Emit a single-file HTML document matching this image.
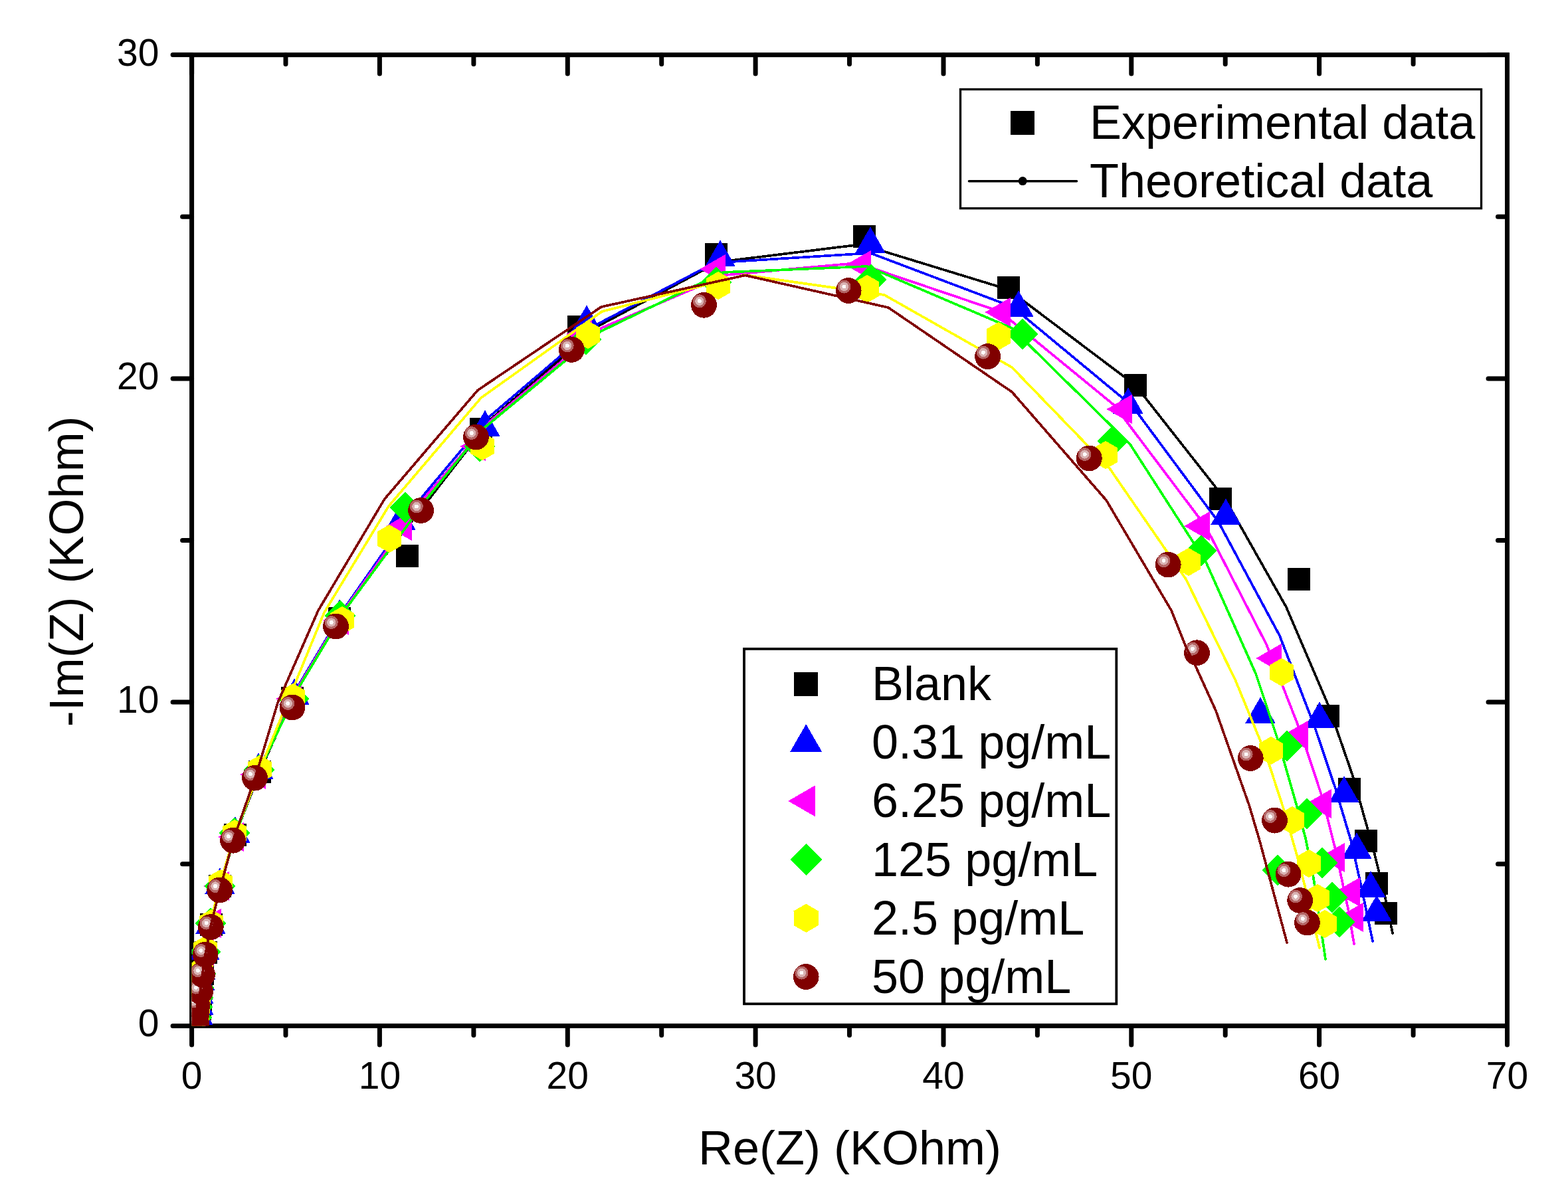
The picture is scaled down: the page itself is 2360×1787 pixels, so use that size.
<!DOCTYPE html><html><head><meta charset="utf-8"><style>html,body{margin:0;padding:0;background:#fff;}svg{display:block}text{font-family:"Liberation Sans",Arial,sans-serif;fill:#000}</style></head><body>
<svg width="2360" height="1787" viewBox="0 0 2360 1787">
<defs><clipPath id="pc"><rect x="288.6" y="82.6" width="1979.9" height="1461.8"/></clipPath>
</defs>
<rect width="100%" height="100%" fill="#fff"/>
<g stroke="#000" stroke-width="7" fill="none" stroke-linecap="round">
<rect x="288.6" y="82.6" width="1979.9" height="1461.8" stroke-linecap="square"/>
<path d="M288.6 1544.4V1572.9M288.6 82.6V111.1M430.0 1544.4V1558.4M430.0 82.6V96.6M571.4 1544.4V1572.9M571.4 82.6V111.1M712.9 1544.4V1558.4M712.9 82.6V96.6M854.3 1544.4V1572.9M854.3 82.6V111.1M995.7 1544.4V1558.4M995.7 82.6V96.6M1137.1 1544.4V1572.9M1137.1 82.6V111.1M1278.5 1544.4V1558.4M1278.5 82.6V96.6M1420.0 1544.4V1572.9M1420.0 82.6V111.1M1561.4 1544.4V1558.4M1561.4 82.6V96.6M1702.8 1544.4V1572.9M1702.8 82.6V111.1M1844.2 1544.4V1558.4M1844.2 82.6V96.6M1985.6 1544.4V1572.9M1985.6 82.6V111.1M2127.1 1544.4V1558.4M2127.1 82.6V96.6M2268.5 1544.4V1572.9M2268.5 82.6V111.1M288.6 1544.4H260.1M2268.5 1544.4H2240.0M288.6 1300.8H274.6M2268.5 1300.8H2254.5M288.6 1057.1H260.1M2268.5 1057.1H2240.0M288.6 813.5H274.6M2268.5 813.5H2254.5M288.6 569.9H260.1M2268.5 569.9H2240.0M288.6 326.2H274.6M2268.5 326.2H2254.5M288.6 82.6H260.1M2268.5 82.6H2240.0"/>
</g>
<g font-size="57">
<text x="288.6" y="1638.5" text-anchor="middle">0</text>
<text x="571.4" y="1638.5" text-anchor="middle">10</text>
<text x="854.3" y="1638.5" text-anchor="middle">20</text>
<text x="1137.1" y="1638.5" text-anchor="middle">30</text>
<text x="1420.0" y="1638.5" text-anchor="middle">40</text>
<text x="1702.8" y="1638.5" text-anchor="middle">50</text>
<text x="1985.6" y="1638.5" text-anchor="middle">60</text>
<text x="2268.5" y="1638.5" text-anchor="middle">70</text>
<text x="239.5" y="1560.4" text-anchor="end">0</text>
<text x="239.5" y="1073.1" text-anchor="end">10</text>
<text x="239.5" y="585.9" text-anchor="end">20</text>
<text x="239.5" y="98.6" text-anchor="end">30</text>
</g>
<text x="1051" y="1752.5" font-size="72">Re(Z) (KOhm)</text>
<text transform="translate(124.8 1094.3) rotate(-90)" font-size="72">-Im(Z) (KOhm)</text>
<g clip-path="url(#pc)" shape-rendering="crispEdges">
<g fill="#000000"><rect x="283.0" y="1515.0" width="34" height="34"/><rect x="284.0" y="1502.0" width="34" height="34"/><rect x="285.0" y="1488.0" width="34" height="34"/><rect x="286.0" y="1471.0" width="34" height="34"/><rect x="288.0" y="1449.0" width="34" height="34"/><rect x="293.0" y="1417.0" width="34" height="34"/><rect x="301.0" y="1375.0" width="34" height="34"/><rect x="314.0" y="1317.0" width="34" height="34"/><rect x="337.0" y="1240.0" width="34" height="34"/><rect x="374.0" y="1145.0" width="34" height="34"/><rect x="423.0" y="1034.0" width="34" height="34"/><rect x="494.0" y="914.0" width="34" height="34"/><rect x="596.0" y="820.0" width="34" height="34"/><rect x="707.0" y="629.0" width="34" height="34"/><rect x="854.0" y="475.0" width="34" height="34"/><rect x="1061.0" y="366.0" width="34" height="34"/><rect x="1284.0" y="339.0" width="34" height="34"/><rect x="1501.0" y="416.0" width="34" height="34"/><rect x="1692.0" y="563.0" width="34" height="34"/><rect x="1820.0" y="734.0" width="34" height="34"/><rect x="1938.0" y="855.0" width="34" height="34"/><rect x="1982.0" y="1061.0" width="34" height="34"/><rect x="2014.0" y="1171.0" width="34" height="34"/><rect x="2039.0" y="1249.0" width="34" height="34"/><rect x="2055.0" y="1313.0" width="34" height="34"/><rect x="2069.0" y="1358.0" width="34" height="34"/></g>
<path d="M295.0 1544.0L300.0 1510.0L304.0 1470.0L311.0 1435.0L318.0 1392.0L331.0 1334.0L354.0 1257.0L391.0 1162.0L448.0 1034.0L521.0 912.0L740.0 630.0L902.0 490.0L1056.0 408.0L1101.0 392.0L1296.0 368.0L1518.0 436.0L1709.0 580.0L1845.0 753.0L1936.0 914.0L1999.0 1061.0L2036.0 1168.0L2068.0 1282.0L2084.0 1347.0L2096.0 1405.0" fill="none" stroke="#000000" stroke-width="3.7" stroke-linejoin="round" stroke-linecap="round"/>
<g fill="#0000FF"><path d="M298.0 1503.5L320.9 1543.2L275.1 1543.2Z"/><path d="M299.0 1488.5L321.9 1528.2L276.1 1528.2Z"/><path d="M299.0 1471.5L321.9 1511.2L276.1 1511.2Z"/><path d="M301.0 1451.5L323.9 1491.2L278.1 1491.2Z"/><path d="M302.0 1435.5L324.9 1475.2L279.1 1475.2Z"/><path d="M308.0 1405.5L330.9 1445.2L285.1 1445.2Z"/><path d="M317.0 1366.5L339.9 1406.2L294.1 1406.2Z"/><path d="M331.0 1306.5L353.9 1346.2L308.1 1346.2Z"/><path d="M354.0 1229.5L376.9 1269.2L331.1 1269.2Z"/><path d="M389.0 1133.5L411.9 1173.2L366.1 1173.2Z"/><path d="M443.0 1021.5L465.9 1061.2L420.1 1061.2Z"/><path d="M511.0 902.5L533.9 942.2L488.1 942.2Z"/><path d="M603.0 758.5L625.9 798.2L580.1 798.2Z"/><path d="M730.0 617.5L752.9 657.2L707.1 657.2Z"/><path d="M883.0 459.5L905.9 499.2L860.1 499.2Z"/><path d="M1084.0 361.5L1106.9 401.2L1061.1 401.2Z"/><path d="M1310.0 341.5L1332.9 381.2L1287.1 381.2Z"/><path d="M1533.0 437.5L1555.9 477.2L1510.1 477.2Z"/><path d="M1698.0 583.5L1720.9 623.2L1675.1 623.2Z"/><path d="M1845.0 750.5L1867.9 790.2L1822.1 790.2Z"/><path d="M1897.0 1049.5L1919.9 1089.2L1874.1 1089.2Z"/><path d="M1986.0 1056.5L2008.9 1096.2L1963.1 1096.2Z"/><path d="M2023.0 1168.5L2045.9 1208.2L2000.1 1208.2Z"/><path d="M2042.0 1253.5L2064.9 1293.2L2019.1 1293.2Z"/><path d="M2063.0 1311.5L2085.9 1351.2L2040.1 1351.2Z"/><path d="M2072.0 1347.5L2094.9 1387.2L2049.1 1387.2Z"/></g>
<path d="M294.0 1544.0L299.0 1510.0L303.0 1470.0L309.0 1435.0L317.0 1393.0L331.0 1333.0L354.0 1256.0L389.0 1160.0L448.0 1034.0L521.0 912.0L637.0 746.0L737.0 627.0L901.0 487.0L1054.0 407.0L1101.0 394.0L1310.0 381.0L1524.0 462.0L1705.0 612.0L1834.0 786.0L1926.0 957.0L1979.0 1095.0L2010.0 1187.0L2034.0 1268.0L2050.0 1340.0L2066.0 1417.0" fill="none" stroke="#0000FF" stroke-width="3.7" stroke-linejoin="round" stroke-linecap="round"/>
<g fill="#FF00FF"><path d="M271.5 1530.0L309.8 1507.9L309.8 1552.1Z"/><path d="M272.5 1516.0L310.8 1493.9L310.8 1538.1Z"/><path d="M273.5 1500.0L311.8 1477.9L311.8 1522.1Z"/><path d="M274.5 1480.0L312.8 1457.9L312.8 1502.1Z"/><path d="M276.5 1463.0L314.8 1440.9L314.8 1485.1Z"/><path d="M283.5 1432.0L321.8 1409.9L321.8 1454.1Z"/><path d="M294.5 1390.0L332.8 1367.9L332.8 1412.1Z"/><path d="M306.5 1334.0L344.8 1311.9L344.8 1356.1Z"/><path d="M328.5 1260.0L366.8 1237.9L366.8 1282.1Z"/><path d="M361.5 1166.0L399.8 1143.9L399.8 1188.1Z"/><path d="M415.5 1052.0L453.8 1029.9L453.8 1074.1Z"/><path d="M486.5 934.0L524.8 911.9L524.8 956.1Z"/><path d="M581.5 792.0L619.8 769.9L619.8 814.1Z"/><path d="M692.5 672.0L730.8 649.9L730.8 694.1Z"/><path d="M852.5 503.0L890.8 480.9L890.8 525.1Z"/><path d="M1053.5 405.0L1091.8 382.9L1091.8 427.1Z"/><path d="M1272.5 399.0L1310.8 376.9L1310.8 421.1Z"/><path d="M1482.5 470.0L1520.8 447.9L1520.8 492.1Z"/><path d="M1665.5 616.0L1703.8 593.9L1703.8 638.1Z"/><path d="M1782.5 792.0L1820.8 769.9L1820.8 814.1Z"/><path d="M1890.5 991.0L1928.8 968.9L1928.8 1013.1Z"/><path d="M1930.5 1107.0L1968.8 1084.9L1968.8 1129.1Z"/><path d="M1965.5 1210.0L2003.8 1187.9L2003.8 1232.1Z"/><path d="M1985.5 1291.0L2023.8 1268.9L2023.8 1313.1Z"/><path d="M2008.5 1343.0L2046.8 1320.9L2046.8 1365.1Z"/><path d="M2013.5 1381.0L2051.8 1358.9L2051.8 1403.1Z"/></g>
<path d="M294.0 1544.0L299.0 1510.0L303.0 1470.0L309.0 1435.0L318.0 1392.0L331.0 1334.0L354.0 1258.0L389.0 1162.0L448.0 1036.0L521.0 914.0L640.0 748.0L740.0 632.0L905.0 494.0L1092.0 414.0L1290.0 396.0L1505.0 469.0L1677.0 610.0L1815.0 793.0L1906.0 970.0L1958.0 1103.0L1990.0 1200.0L2009.0 1275.0L2029.0 1368.0L2038.0 1421.0" fill="none" stroke="#FF00FF" stroke-width="3.7" stroke-linejoin="round" stroke-linecap="round"/>
<g fill="#00FF00"><path d="M296.0 1508.8L319.2 1532.0L296.0 1555.2L272.8 1532.0Z"/><path d="M297.0 1492.8L320.2 1516.0L297.0 1539.2L273.8 1516.0Z"/><path d="M298.0 1478.8L321.2 1502.0L298.0 1525.2L274.8 1502.0Z"/><path d="M299.0 1463.8L322.2 1487.0L299.0 1510.2L275.8 1487.0Z"/><path d="M302.0 1442.8L325.2 1466.0L302.0 1489.2L278.8 1466.0Z"/><path d="M309.0 1409.8L332.2 1433.0L309.0 1456.2L285.8 1433.0Z"/><path d="M317.0 1366.8L340.2 1390.0L317.0 1413.2L293.8 1390.0Z"/><path d="M331.0 1310.8L354.2 1334.0L331.0 1357.2L307.8 1334.0Z"/><path d="M353.0 1230.8L376.2 1254.0L353.0 1277.2L329.8 1254.0Z"/><path d="M390.0 1135.8L413.2 1159.0L390.0 1182.2L366.8 1159.0Z"/><path d="M442.0 1028.8L465.2 1052.0L442.0 1075.2L418.8 1052.0Z"/><path d="M512.0 903.8L535.2 927.0L512.0 950.2L488.8 927.0Z"/><path d="M610.0 740.8L633.2 764.0L610.0 787.2L586.8 764.0Z"/><path d="M722.0 648.8L745.2 672.0L722.0 695.2L698.8 672.0Z"/><path d="M882.0 487.8L905.2 511.0L882.0 534.2L858.8 511.0Z"/><path d="M1078.0 401.8L1101.2 425.0L1078.0 448.2L1054.8 425.0Z"/><path d="M1311.0 397.8L1334.2 421.0L1311.0 444.2L1287.8 421.0Z"/><path d="M1539.0 479.8L1562.2 503.0L1539.0 526.2L1515.8 503.0Z"/><path d="M1675.0 640.8L1698.2 664.0L1675.0 687.2L1651.8 664.0Z"/><path d="M1808.0 805.8L1831.2 829.0L1808.0 852.2L1784.8 829.0Z"/><path d="M1923.0 1286.8L1946.2 1310.0L1923.0 1333.2L1899.8 1310.0Z"/><path d="M1937.0 1099.8L1960.2 1123.0L1937.0 1146.2L1913.8 1123.0Z"/><path d="M1967.0 1201.8L1990.2 1225.0L1967.0 1248.2L1943.8 1225.0Z"/><path d="M1990.0 1275.8L2013.2 1299.0L1990.0 1322.2L1966.8 1299.0Z"/><path d="M2005.0 1327.8L2028.2 1351.0L2005.0 1374.2L1981.8 1351.0Z"/><path d="M2016.0 1364.8L2039.2 1388.0L2016.0 1411.2L1992.8 1388.0Z"/></g>
<path d="M293.0 1544.0L298.0 1510.0L302.0 1470.0L309.0 1435.0L318.0 1392.0L331.0 1335.0L354.0 1258.0L389.0 1163.0L448.0 1038.0L521.0 916.0L644.0 749.0L729.0 644.0L904.0 499.0L1088.0 410.0L1305.0 401.0L1523.0 494.0L1701.0 669.0L1815.0 846.0L1890.0 1014.0L1923.0 1113.0L1952.0 1214.0L1965.0 1262.0L1977.0 1322.0L1995.0 1444.0" fill="none" stroke="#00FF00" stroke-width="3.7" stroke-linejoin="round" stroke-linecap="round"/>
<g fill="#FFFF00"><path d="M297.0 1508.8L315.4 1519.4L315.4 1540.6L297.0 1551.2L278.6 1540.6L278.6 1519.4Z"/><path d="M298.0 1493.8L316.4 1504.4L316.4 1525.6L298.0 1536.2L279.6 1525.6L279.6 1504.4Z"/><path d="M299.0 1478.8L317.4 1489.4L317.4 1510.6L299.0 1521.2L280.6 1510.6L280.6 1489.4Z"/><path d="M300.0 1462.8L318.4 1473.4L318.4 1494.6L300.0 1505.2L281.6 1494.6L281.6 1473.4Z"/><path d="M303.0 1440.8L321.4 1451.4L321.4 1472.6L303.0 1483.2L284.6 1472.6L284.6 1451.4Z"/><path d="M309.0 1408.8L327.4 1419.4L327.4 1440.6L309.0 1451.2L290.6 1440.6L290.6 1419.4Z"/><path d="M318.0 1368.8L336.4 1379.4L336.4 1400.6L318.0 1411.2L299.6 1400.6L299.6 1379.4Z"/><path d="M332.0 1308.8L350.4 1319.4L350.4 1340.6L332.0 1351.2L313.6 1340.6L313.6 1319.4Z"/><path d="M353.0 1233.8L371.4 1244.4L371.4 1265.6L353.0 1276.2L334.6 1265.6L334.6 1244.4Z"/><path d="M391.0 1136.8L409.4 1147.4L409.4 1168.6L391.0 1179.2L372.6 1168.6L372.6 1147.4Z"/><path d="M441.0 1028.8L459.4 1039.4L459.4 1060.6L441.0 1071.2L422.6 1060.6L422.6 1039.4Z"/><path d="M515.0 912.8L533.4 923.4L533.4 944.6L515.0 955.2L496.6 944.6L496.6 923.4Z"/><path d="M586.0 789.8L604.4 800.4L604.4 821.6L586.0 832.2L567.6 821.6L567.6 800.4Z"/><path d="M726.0 650.8L744.4 661.4L744.4 682.6L726.0 693.2L707.6 682.6L707.6 661.4Z"/><path d="M885.0 482.8L903.4 493.4L903.4 514.6L885.0 525.2L866.6 514.6L866.6 493.4Z"/><path d="M1081.0 408.8L1099.4 419.4L1099.4 440.6L1081.0 451.2L1062.6 440.6L1062.6 419.4Z"/><path d="M1305.0 413.8L1323.4 424.4L1323.4 445.6L1305.0 456.2L1286.6 445.6L1286.6 424.4Z"/><path d="M1503.0 484.8L1521.4 495.4L1521.4 516.6L1503.0 527.2L1484.6 516.6L1484.6 495.4Z"/><path d="M1664.0 663.8L1682.4 674.4L1682.4 695.6L1664.0 706.2L1645.6 695.6L1645.6 674.4Z"/><path d="M1789.0 824.8L1807.4 835.4L1807.4 856.6L1789.0 867.2L1770.6 856.6L1770.6 835.4Z"/><path d="M1929.0 990.8L1947.4 1001.4L1947.4 1022.6L1929.0 1033.2L1910.6 1022.6L1910.6 1001.4Z"/><path d="M1913.0 1108.8L1931.4 1119.4L1931.4 1140.6L1913.0 1151.2L1894.6 1140.6L1894.6 1119.4Z"/><path d="M1945.0 1213.8L1963.4 1224.4L1963.4 1245.6L1945.0 1256.2L1926.6 1245.6L1926.6 1224.4Z"/><path d="M1970.0 1278.8L1988.4 1289.4L1988.4 1310.6L1970.0 1321.2L1951.6 1310.6L1951.6 1289.4Z"/><path d="M1983.0 1330.8L2001.4 1341.4L2001.4 1362.6L1983.0 1373.2L1964.6 1362.6L1964.6 1341.4Z"/><path d="M1994.0 1369.8L2012.4 1380.4L2012.4 1401.6L1994.0 1412.2L1975.6 1401.6L1975.6 1380.4Z"/></g>
<path d="M293.0 1544.0L298.0 1510.0L302.0 1470.0L308.0 1435.0L316.0 1392.0L330.0 1335.0L352.0 1260.0L399.0 1139.0L488.0 922.0L585.0 762.0L724.0 599.0L906.0 469.0L1121.0 414.0L1331.0 444.0L1523.0 553.0L1670.0 705.0L1785.0 872.0L1859.0 1023.0L1905.0 1135.0L1932.0 1218.0L1953.0 1291.0L1964.0 1334.0L1986.0 1427.0" fill="none" stroke="#FFFF00" stroke-width="3.7" stroke-linejoin="round" stroke-linecap="round"/>
<g fill="#800000"><circle cx="295.5" cy="1540.0" r="19.4" fill="#800000"/><circle cx="288.8" cy="1534.0" r="10" fill="#B46666"/><circle cx="288.8" cy="1534.0" r="6.6" fill="#D9B3B3"/><circle cx="288.8" cy="1534.0" r="3" fill="#FDFAFA"/><circle cx="296.0" cy="1527.0" r="19.4" fill="#800000"/><circle cx="289.3" cy="1521.0" r="10" fill="#B46666"/><circle cx="289.3" cy="1521.0" r="6.6" fill="#D9B3B3"/><circle cx="289.3" cy="1521.0" r="3" fill="#FDFAFA"/><circle cx="297.1" cy="1513.5" r="19.4" fill="#800000"/><circle cx="290.4" cy="1507.5" r="10" fill="#B46666"/><circle cx="290.4" cy="1507.5" r="6.6" fill="#D9B3B3"/><circle cx="290.4" cy="1507.5" r="3" fill="#FDFAFA"/><circle cx="301.6" cy="1492.6" r="19.4" fill="#800000"/><circle cx="294.9" cy="1486.6" r="10" fill="#B46666"/><circle cx="294.9" cy="1486.6" r="6.6" fill="#D9B3B3"/><circle cx="294.9" cy="1486.6" r="3" fill="#FDFAFA"/><circle cx="304.6" cy="1467.2" r="19.4" fill="#800000"/><circle cx="297.9" cy="1461.2" r="10" fill="#B46666"/><circle cx="297.9" cy="1461.2" r="6.6" fill="#D9B3B3"/><circle cx="297.9" cy="1461.2" r="3" fill="#FDFAFA"/><circle cx="309.1" cy="1437.0" r="19.4" fill="#800000"/><circle cx="302.4" cy="1431.0" r="10" fill="#B46666"/><circle cx="302.4" cy="1431.0" r="6.6" fill="#D9B3B3"/><circle cx="302.4" cy="1431.0" r="3" fill="#FDFAFA"/><circle cx="317.3" cy="1395.6" r="19.4" fill="#800000"/><circle cx="310.6" cy="1389.6" r="10" fill="#B46666"/><circle cx="310.6" cy="1389.6" r="6.6" fill="#D9B3B3"/><circle cx="310.6" cy="1389.6" r="3" fill="#FDFAFA"/><circle cx="330.7" cy="1340.0" r="19.4" fill="#800000"/><circle cx="324.0" cy="1334.0" r="10" fill="#B46666"/><circle cx="324.0" cy="1334.0" r="6.6" fill="#D9B3B3"/><circle cx="324.0" cy="1334.0" r="3" fill="#FDFAFA"/><circle cx="350.6" cy="1265.2" r="19.4" fill="#800000"/><circle cx="343.9" cy="1259.2" r="10" fill="#B46666"/><circle cx="343.9" cy="1259.2" r="6.6" fill="#D9B3B3"/><circle cx="343.9" cy="1259.2" r="3" fill="#FDFAFA"/><circle cx="383.5" cy="1171.2" r="19.4" fill="#800000"/><circle cx="376.8" cy="1165.2" r="10" fill="#B46666"/><circle cx="376.8" cy="1165.2" r="6.6" fill="#D9B3B3"/><circle cx="376.8" cy="1165.2" r="3" fill="#FDFAFA"/><circle cx="440.0" cy="1065.0" r="19.4" fill="#800000"/><circle cx="433.3" cy="1059.0" r="10" fill="#B46666"/><circle cx="433.3" cy="1059.0" r="6.6" fill="#D9B3B3"/><circle cx="433.3" cy="1059.0" r="3" fill="#FDFAFA"/><circle cx="505.5" cy="943.0" r="19.4" fill="#800000"/><circle cx="498.8" cy="937.0" r="10" fill="#B46666"/><circle cx="498.8" cy="937.0" r="6.6" fill="#D9B3B3"/><circle cx="498.8" cy="937.0" r="3" fill="#FDFAFA"/><circle cx="633.6" cy="768.5" r="19.4" fill="#800000"/><circle cx="626.9" cy="762.5" r="10" fill="#B46666"/><circle cx="626.9" cy="762.5" r="6.6" fill="#D9B3B3"/><circle cx="626.9" cy="762.5" r="3" fill="#FDFAFA"/><circle cx="716.4" cy="658.0" r="19.4" fill="#800000"/><circle cx="709.7" cy="652.0" r="10" fill="#B46666"/><circle cx="709.7" cy="652.0" r="6.6" fill="#D9B3B3"/><circle cx="709.7" cy="652.0" r="3" fill="#FDFAFA"/><circle cx="860.4" cy="526.4" r="19.4" fill="#800000"/><circle cx="853.7" cy="520.4" r="10" fill="#B46666"/><circle cx="853.7" cy="520.4" r="6.6" fill="#D9B3B3"/><circle cx="853.7" cy="520.4" r="3" fill="#FDFAFA"/><circle cx="1059.5" cy="459.3" r="19.4" fill="#800000"/><circle cx="1052.8" cy="453.3" r="10" fill="#B46666"/><circle cx="1052.8" cy="453.3" r="6.6" fill="#D9B3B3"/><circle cx="1052.8" cy="453.3" r="3" fill="#FDFAFA"/><circle cx="1277.2" cy="437.5" r="19.4" fill="#800000"/><circle cx="1270.5" cy="431.5" r="10" fill="#B46666"/><circle cx="1270.5" cy="431.5" r="6.6" fill="#D9B3B3"/><circle cx="1270.5" cy="431.5" r="3" fill="#FDFAFA"/><circle cx="1486.6" cy="536.6" r="19.4" fill="#800000"/><circle cx="1479.9" cy="530.6" r="10" fill="#B46666"/><circle cx="1479.9" cy="530.6" r="6.6" fill="#D9B3B3"/><circle cx="1479.9" cy="530.6" r="3" fill="#FDFAFA"/><circle cx="1639.3" cy="690.0" r="19.4" fill="#800000"/><circle cx="1632.6" cy="684.0" r="10" fill="#B46666"/><circle cx="1632.6" cy="684.0" r="6.6" fill="#D9B3B3"/><circle cx="1632.6" cy="684.0" r="3" fill="#FDFAFA"/><circle cx="1758.2" cy="850.1" r="19.4" fill="#800000"/><circle cx="1751.5" cy="844.1" r="10" fill="#B46666"/><circle cx="1751.5" cy="844.1" r="6.6" fill="#D9B3B3"/><circle cx="1751.5" cy="844.1" r="3" fill="#FDFAFA"/><circle cx="1801.5" cy="982.8" r="19.4" fill="#800000"/><circle cx="1794.8" cy="976.8" r="10" fill="#B46666"/><circle cx="1794.8" cy="976.8" r="6.6" fill="#D9B3B3"/><circle cx="1794.8" cy="976.8" r="3" fill="#FDFAFA"/><circle cx="1882.3" cy="1141.5" r="19.4" fill="#800000"/><circle cx="1875.6" cy="1135.5" r="10" fill="#B46666"/><circle cx="1875.6" cy="1135.5" r="6.6" fill="#D9B3B3"/><circle cx="1875.6" cy="1135.5" r="3" fill="#FDFAFA"/><circle cx="1918.5" cy="1235.1" r="19.4" fill="#800000"/><circle cx="1911.8" cy="1229.1" r="10" fill="#B46666"/><circle cx="1911.8" cy="1229.1" r="6.6" fill="#D9B3B3"/><circle cx="1911.8" cy="1229.1" r="3" fill="#FDFAFA"/><circle cx="1939.1" cy="1316.2" r="19.4" fill="#800000"/><circle cx="1932.4" cy="1310.2" r="10" fill="#B46666"/><circle cx="1932.4" cy="1310.2" r="6.6" fill="#D9B3B3"/><circle cx="1932.4" cy="1310.2" r="3" fill="#FDFAFA"/><circle cx="1956.7" cy="1355.6" r="19.4" fill="#800000"/><circle cx="1950.0" cy="1349.6" r="10" fill="#B46666"/><circle cx="1950.0" cy="1349.6" r="6.6" fill="#D9B3B3"/><circle cx="1950.0" cy="1349.6" r="3" fill="#FDFAFA"/><circle cx="1967.4" cy="1389.1" r="19.4" fill="#800000"/><circle cx="1960.7" cy="1383.1" r="10" fill="#B46666"/><circle cx="1960.7" cy="1383.1" r="6.6" fill="#D9B3B3"/><circle cx="1960.7" cy="1383.1" r="3" fill="#FDFAFA"/></g>
<path d="M294.0 1544.0L297.0 1513.0L301.6 1492.0L304.6 1467.0L309.0 1437.0L317.0 1395.0L330.7 1340.0L351.0 1265.0L385.0 1168.0L418.0 1058.0L479.0 919.0L579.0 751.0L719.0 587.5L905.0 462.0L1121.5 414.5L1337.0 463.0L1523.0 590.0L1665.0 753.0L1763.0 919.0L1785.0 974.0L1800.0 1004.0L1830.0 1070.0L1880.0 1212.0L1896.0 1266.0L1937.0 1419.0" fill="none" stroke="#800000" stroke-width="3.7" stroke-linejoin="round" stroke-linecap="round"/>
</g>
<rect x="1445.5" y="134.5" width="784" height="179.2" fill="none" stroke="#000" stroke-width="3.3"/>
<rect x="1521" y="167" width="36" height="36" fill="#000"/>
<text x="1640" y="209.3" font-size="72">Experimental data</text>
<path d="M1458.5 272.7H1620.5" stroke="#000" stroke-width="3.6" stroke-linecap="round"/>
<circle cx="1539.2" cy="272.6" r="6.5" fill="#000"/>
<text x="1640" y="296.7" font-size="72">Theoretical data</text>
<rect x="1120" y="976.9" width="560.3" height="534.4" fill="none" stroke="#000" stroke-width="3.8"/>
<g fill="#000000" shape-rendering="crispEdges"><rect x="1195.2" y="1011.5" width="36" height="36"/></g>
<text x="1312" y="1054.0" font-size="72">Blank</text>
<g fill="#0000FF" shape-rendering="crispEdges"><path d="M1213.2 1090.2L1237.0 1131.5L1189.4 1131.5Z"/></g>
<text x="1312" y="1142.2" font-size="72">0.31 pg/mL</text>
<g fill="#FF00FF" shape-rendering="crispEdges"><path d="M1186.2 1205.9L1226.7 1182.5L1226.7 1229.3Z"/></g>
<text x="1312" y="1230.4" font-size="72">6.25 pg/mL</text>
<g fill="#00FF00" shape-rendering="crispEdges"><path d="M1213.2 1270.1L1237.2 1294.1L1213.2 1318.1L1189.2 1294.1Z"/></g>
<text x="1312" y="1318.6" font-size="72">125 pg/mL</text>
<g fill="#FFFF00" shape-rendering="crispEdges"><path d="M1213.2 1360.7L1231.9 1371.5L1231.9 1393.1L1213.2 1403.9L1194.5 1393.1L1194.5 1371.5Z"/></g>
<text x="1312" y="1406.8" font-size="72">2.5 pg/mL</text>
<g fill="#800000" shape-rendering="crispEdges"><circle cx="1213.2" cy="1470.5" r="19.4" fill="#800000"/><circle cx="1206.5" cy="1464.5" r="10" fill="#B46666"/><circle cx="1206.5" cy="1464.5" r="6.6" fill="#D9B3B3"/><circle cx="1206.5" cy="1464.5" r="3" fill="#FDFAFA"/></g>
<text x="1312" y="1495.0" font-size="72">50 pg/mL</text>
</svg></body></html>
